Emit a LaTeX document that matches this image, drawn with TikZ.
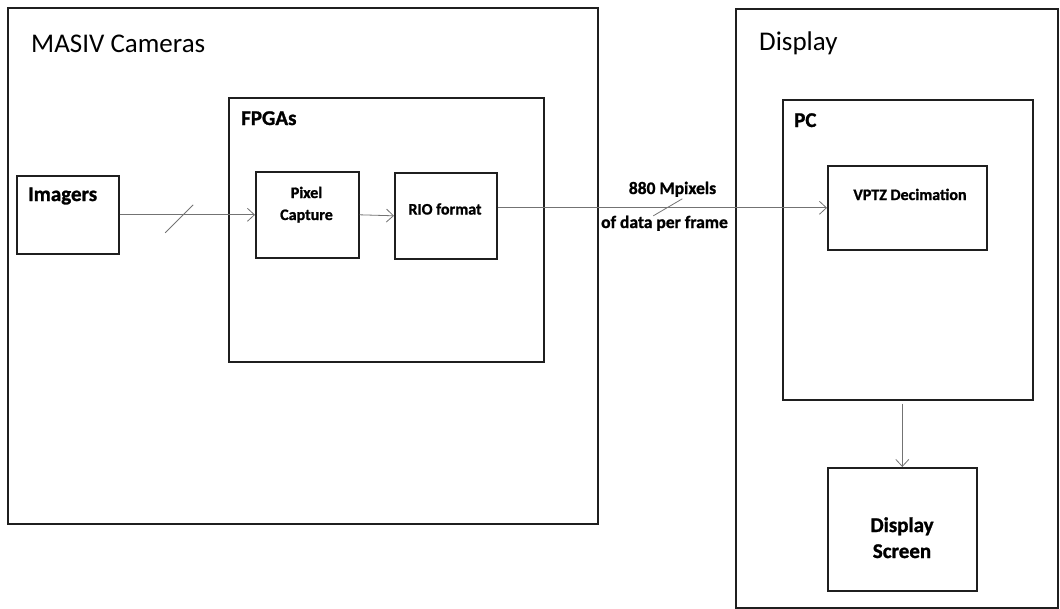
\documentclass[tikz,border=0pt]{standalone}
\usepackage{fontspec}
\setmainfont{Carlito}[BoldFeatures={FakeBold=1.2}]
\usetikzlibrary{arrows.meta,calc}
\begin{document}
\begin{tikzpicture}[x=1pt,y=-1pt,
  frame/.style={draw=black!88, line width=1.6pt, rectangle, inner sep=0pt, anchor=north west},
  flow/.style={draw=black!55, line width=0.8pt, -{Straight Barb[length=7pt,width=13pt,line width=0.8pt]}},
  tick/.style={draw=black!55, line width=0.8pt},
  title/.style={font=\fontsize{27}{32}\selectfont, anchor=base west, inner sep=0pt},
  grp/.style={font=\bfseries\fontsize{21}{25}\selectfont, anchor=base west, inner sep=0pt},
  blk/.style={font=\bfseries\fontsize{16}{20}\selectfont, anchor=base, inner sep=0pt},
  rate/.style={font=\bfseries\fontsize{17.5}{21}\selectfont, anchor=base, inner sep=0pt}]
\useasboundingbox (0,0) rectangle (1060,608);

% camera side
\node[frame, minimum width=590pt, minimum height=516pt] (masiv) at (7,7) {};
\node[frame, minimum width=315pt, minimum height=264pt] (fpga) at (228,97) {};
\node[frame, minimum width=102pt, minimum height=78pt] (imagers) at (16,175) {};
\node[frame, minimum width=103pt, minimum height=86pt] (pixcap) at (255,171) {};
\node[frame, minimum width=102pt, minimum height=86pt] (rio) at (394,172) {};

% display side
\node[frame, minimum width=322pt, minimum height=599pt] (display) at (735,8) {};
\node[frame, minimum width=250pt, minimum height=300pt] (pc) at (782,99) {};
\node[frame, minimum width=159pt, minimum height=84pt] (vptz) at (827,165) {};
\node[frame, minimum width=149pt, minimum height=123pt] (screen) at (827,467) {};

% labels
\node[title] (tmasiv) at (31,52) {MASIV Cameras};
\node[title] (tdisplay) at (759,50) {Display};
\node[grp] (tfpga) at (241,125) {FPGAs};
\node[grp] (tpc) at (794,127) {PC};
\node[grp] (timagers) at (28,201) {Imagers};
\node[blk] (tpix1) at (306.5,198) {Pixel};
\node[blk] (tpix2) at (306.5,220) {Capture};
\node[blk] (trio) at (445,214.5) {RIO format};
\node[blk] (tvptz) at (910,200) {VPTZ Decimation};
\node[grp, anchor=base] (tscr1) at (902,532) {Display};
\node[grp, anchor=base] (tscr2) at (902,558) {Screen};

% data flow
\draw[flow] (imagers.east) -- (pixcap.west);
\coordinate (s1) at ($(imagers.east)!0.47!(pixcap.west)$);
\draw[tick] ($(s1)+(-18,18)$) -- ($(s1)+(10,-10)$);

\draw[flow] (pixcap.east) -- (rio.west);

\draw[flow] (rio.east |- vptz.west) -- (vptz.west);
\coordinate (s2) at ($(rio.east |- vptz.west)!0.514!(vptz.west)$);
\draw[tick] ($(s2)+(-13.6,8)$) -- ($(s2)+(15.4,-9)$);
\node[rate] (rate1) at (672.5,194) {880 Mpixels};
\node[rate] (rate2) at (664.5,228) {of data per frame};

\draw[flow, shorten <=3pt] (pc.south -| screen.north) -- (screen.north);
\end{tikzpicture}
\end{document}
